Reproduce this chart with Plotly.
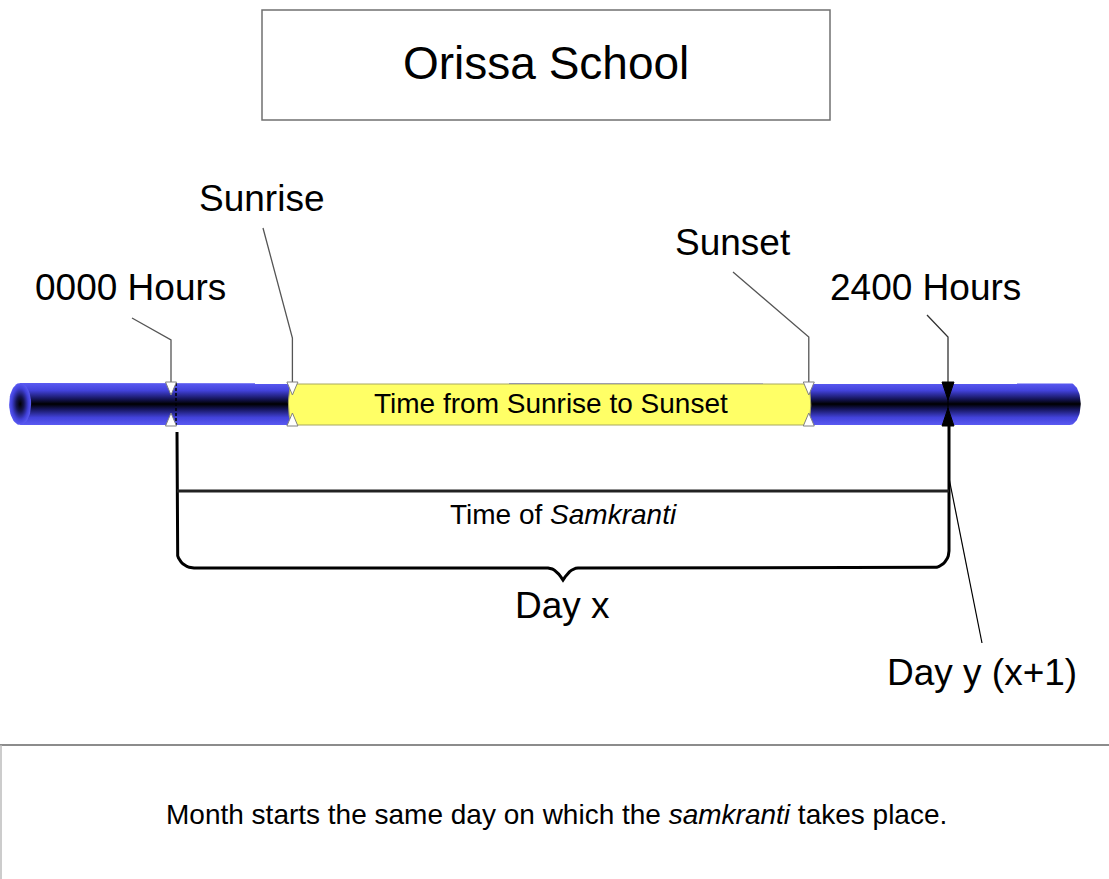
import numpy as np
import plotly.graph_objects as go

# ---------------- data ----------------
event_labels = ["0000 Hours", "Sunrise", "Sunset", "2400 Hours"]
event_hours = [0.0, 3.75, 19.7, 24.0]
samkranti_hour = 24.0
bar_start_hour = -5.0
bar_end_hour = 28.1
title_text = "Orissa School"
daylight_text = "Time from Sunrise to Sunset"
samkranti_text = "Time of <i>Samkranti</i>"
day_x_text = "Day x"
day_y_text = "Day y (x+1)"
note_text = "Month starts the same day on which the <i>samkranti</i> takes place."

# ---------------- layout helpers ----------------
W, H = 1109, 879
PX_PER_HOUR = 32.375
X0 = 171.0


def px2h(px):
    return (px - X0) / PX_PER_HOUR


def dpx(p):
    return p / PX_PER_HOUR


FONT = "Liberation Sans, Arial, Helvetica, sans-serif"
BAR_TOP, BAR_BOT = 383.0, 425.0
BAR_MID = (BAR_TOP + BAR_BOT) / 2
BAR_RY = (BAR_BOT - BAR_TOP) / 2
CAP_RX = 11.0

fig = go.Figure()

blue_scale = [[0.0, "#5a5af2"], [0.18, "#4242da"], [0.38, "#15155a"],
              [0.5, "#000000"], [0.62, "#15155a"], [0.82, "#4242da"], [1.0, "#5a5af2"]]

# bar body (cylinder) with rounded right end
start_c = bar_start_hour + dpx(CAP_RX)
end_c = bar_end_hour - dpx(CAP_RX)
th = np.linspace(-np.pi / 2, np.pi / 2, 40)
bx = [start_c] + list(end_c + dpx(CAP_RX) * np.cos(th)) + [start_c]
by = [BAR_TOP] + list(BAR_MID + BAR_RY * np.sin(th)) + [BAR_BOT]
fig.add_trace(go.Scatter(x=bx, y=by, fill="toself", mode="lines",
                         line=dict(width=0), fillcolor="#3030c0",
                         fillgradient=dict(type="vertical", colorscale=blue_scale),
                         hoverinfo="skip", showlegend=False))

# left end cap ellipse
th2 = np.linspace(0, 2 * np.pi, 60)
cx = start_c + dpx(CAP_RX) * np.cos(th2)
cy = BAR_MID + BAR_RY * np.sin(th2)
fig.add_trace(go.Scatter(x=cx, y=cy, fill="toself", mode="lines",
                         line=dict(width=0), fillcolor="#3030c0",
                         fillgradient=dict(type="radial",
                                           colorscale=[[0, "#000000"], [0.35, "#141450"],
                                                       [0.75, "#4040d8"], [1, "#5a5af2"]]),
                         hoverinfo="skip", showlegend=False))

# yellow daylight segment
sr, ss = event_hours[1], event_hours[2]
yy = np.linspace(BAR_TOP + 1, BAR_BOT, 25)
bulge = np.sqrt(np.clip(1 - ((yy - BAR_MID) / BAR_RY) ** 2, 0, 1))
lx = sr + dpx(1) - dpx(5) * bulge
rx = ss - dpx(3) + dpx(5) * bulge
yx = list(lx) + list(rx[::-1]) + [lx[0]]
yyy = list(yy) + list(yy[::-1]) + [yy[0]]
fig.add_trace(go.Scatter(x=yx, y=yyy, fill="toself", mode="lines",
                         line=dict(width=1, color="#a8a860"), fillcolor="#ffff66",
                         hoverinfo="skip", showlegend=False))

# dashed line at 0000 hours
fig.add_trace(go.Scatter(x=[event_hours[0] + dpx(5)] * 2, y=[BAR_TOP, BAR_BOT], mode="lines",
                         line=dict(color="black", width=1.5, dash="3px,2px"),
                         hoverinfo="skip", showlegend=False))
# thin line through bar at 2400
fig.add_trace(go.Scatter(x=[event_hours[3]] * 2, y=[BAR_TOP, BAR_BOT], mode="lines",
                         line=dict(color="black", width=1.2),
                         hoverinfo="skip", showlegend=False))

# callout leader lines (start offsets in px relative to layout)
callout_starts = [(132, 318), (263, 228), (733, 272), (927, 315)]
callout_knees = [340, 338, 337, 337]
callout_colors = ["#555555", "#555555", "#555555", "#333333"]
for h, (sx, sy), ky, col in zip(event_hours, callout_starts, callout_knees, callout_colors):
    fig.add_trace(go.Scatter(x=[px2h(sx), h, h], y=[sy, ky, BAR_TOP], mode="lines",
                             line=dict(color=col, width=1.3),
                             hoverinfo="skip", showlegend=False))

# triangle markers on the bar
for i, h in enumerate(event_hours):
    black = i == 3
    hw = dpx(6 if black else 5.5)
    depth = 18 if black else 13
    fc = "black" if black else "white"
    lc = "black" if black else "#808080"
    for top in (True, False):
        if top:
            ty = [BAR_TOP - 1, BAR_TOP - 1, BAR_TOP - 1 + depth, BAR_TOP - 1]
        else:
            ty = [BAR_BOT + 1, BAR_BOT + 1, BAR_BOT + 1 - depth, BAR_BOT + 1]
        tx = [h - hw, h + hw, h, h - hw]
        fig.add_trace(go.Scatter(x=tx, y=ty, fill="toself", mode="lines",
                                 line=dict(color=lc, width=1), fillcolor=fc,
                                 hoverinfo="skip", showlegend=False))

# brace below
L = event_hours[0] + dpx(6)
R = samkranti_hour + dpx(1)
Mx = (L + R) / 2
r = 17.0
braceB = 568.0
tip = 580.0
qa = np.linspace(0, np.pi / 2, 12)
xs, ys = [], []
xs += [L, L]; ys += [432, braceB - r]
xs += list(L + dpx(r) * (1 - np.cos(qa))); ys += list(braceB - r + r * np.sin(qa))
xs += [Mx - dpx(15)]; ys += [braceB]
nt = np.linspace(0, 1, 8)
xs += list(Mx - dpx(15) + dpx(15) * nt); ys += list(braceB + (tip - braceB) * nt ** 2)
xs += list(Mx + dpx(15) * nt); ys += list(tip - (tip - braceB) * (1 - (1 - nt) ** 2))
xs += [R - dpx(r)]; ys += [braceB]
xs += list(R - dpx(r) + dpx(r) * np.sin(qa)); ys += list(braceB - r + r * np.cos(qa))
xs += [R]; ys += [BAR_BOT + 1]
fig.add_trace(go.Scatter(x=xs, y=ys, mode="lines",
                         line=dict(color="black", width=3),
                         hoverinfo="skip", showlegend=False))

# samkranti span line
fig.add_trace(go.Scatter(x=[L, R], y=[491, 491], mode="lines",
                         line=dict(color="#222222", width=3),
                         hoverinfo="skip", showlegend=False))

# arrow to Day y
fig.add_trace(go.Scatter(x=[samkranti_hour + dpx(1), px2h(982)], y=[478, 643], mode="lines",
                         line=dict(color="black", width=1.2),
                         hoverinfo="skip", showlegend=False))

# bottom note box lines
fig.add_trace(go.Scatter(x=[px2h(0), px2h(W)], y=[745, 745], mode="lines",
                         line=dict(color="#666666", width=1.6),
                         hoverinfo="skip", showlegend=False))
fig.add_trace(go.Scatter(x=[px2h(1), px2h(1)], y=[745, H], mode="lines",
                         line=dict(color="#bbbbbb", width=1.5),
                         hoverinfo="skip", showlegend=False))

# title box
fig.add_shape(type="rect", x0=px2h(262), x1=px2h(830), y0=10, y1=120,
              line=dict(color="#707070", width=1.5), fillcolor="white", layer="below")

ann = [
    (title_text, 546, 63, 46),
    (event_labels[0], 130, 287, 37),
    (event_labels[1], 261, 198, 37),
    (event_labels[2], 733, 242, 37),
    (event_labels[3], 925, 287, 37),
    (daylight_text, 551, 403, 28),
    (samkranti_text, 563, 514, 28),
    (day_x_text, 562, 605, 37),
    (day_y_text, 982, 672, 37),
    (note_text, 556, 814, 28),
]
for t, x, y, s in ann:
    fig.add_annotation(x=px2h(x), y=y, text=t, showarrow=False,
                       xanchor="center", yanchor="middle",
                       font=dict(family=FONT, size=s, color="black"))

fig.update_layout(
    width=W, height=H,
    margin=dict(l=0, r=0, t=0, b=0),
    paper_bgcolor="white", plot_bgcolor="white",
    xaxis=dict(range=[px2h(0), px2h(W)], visible=False, fixedrange=True),
    yaxis=dict(range=[H, 0], visible=False, fixedrange=True),
    showlegend=False,
)

fig.write_html("out.html", include_plotlyjs=True,
               config={"displayModeBar": False},
               post_script="document.body.style.margin='0';document.body.style.overflow='hidden';")
